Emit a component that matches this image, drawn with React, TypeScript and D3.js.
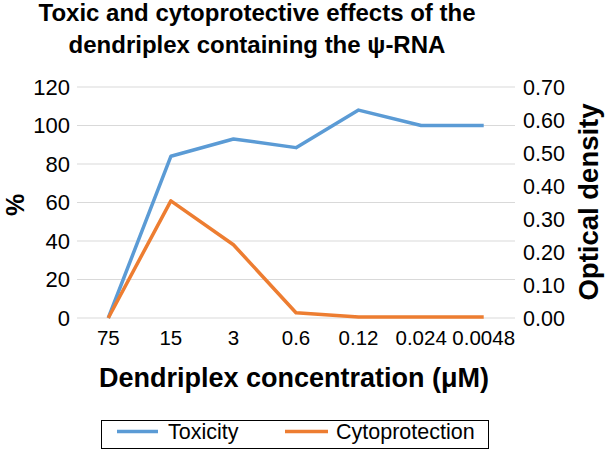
import React from "react";
import * as d3 from "d3";

const categories = ["75", "15", "3", "0.6", "0.12", "0.024", "0.0048"];
const toxicity = [0, 84, 93, 88.5, 108, 100, 100];
const cytoprotection = [0, 0.355, 0.222, 0.016, 0.003, 0.003, 0.003];
const leftTicks = [0, 20, 40, 60, 80, 100, 120];
const rightTicks = [0, 0.1, 0.2, 0.3, 0.4, 0.5, 0.6, 0.7];

const W = 606, H = 450;
const font = "'Liberation Sans', Arial, sans-serif";

export default function App() {
  const x0 = 77, x1 = 515, yTop = 87, yBot = 318;
  const x = d3.scaleBand().domain(categories).range([x0, x1]);
  const cx = (c: string) => (x(c) ?? 0) + x.bandwidth() / 2;
  const yL = d3.scaleLinear().domain([0, 120]).range([yBot, yTop]);
  const yR = d3.scaleLinear().domain([0, 0.7]).range([yBot, yTop]);
  const lineL = d3.line<number>().x((_, i) => cx(categories[i])).y((d) => yL(d));
  const lineR = d3.line<number>().x((_, i) => cx(categories[i])).y((d) => yR(d));
  const blue = "#5B9BD5", orange = "#ED7D31";
  return (
    <svg width={W} height={H} style={{ position: "absolute", left: 0, top: 0, background: "#fff" }} fontFamily={font}>
      <text x={257} y={21} textAnchor="middle" fontSize={24} fontWeight="bold">Toxic and cytoprotective effects of the</text>
      <text x={257} y={53} textAnchor="middle" fontSize={24} fontWeight="bold">dendriplex containing the ψ-RNA</text>
      {leftTicks.map((t) => (
        <g key={t}>
          <line x1={x0} x2={x1} y1={yL(t)} y2={yL(t)} stroke="#d9d9d9" strokeWidth={1} />
          <text x={70} y={yL(t) + 7.5} textAnchor="end" fontSize={22}>{t}</text>
        </g>
      ))}
      {rightTicks.map((t) => (
        <text key={t} x={523} y={yR(t) + 7.5} fontSize={21.5}>{t.toFixed(2)}</text>
      ))}
      {categories.map((c) => (
        <text key={c} x={cx(c)} y={345} textAnchor="middle" fontSize={20.5}>{c}</text>
      ))}
      <path d={lineL(toxicity) ?? ""} fill="none" stroke={blue} strokeWidth={3.5} strokeLinejoin="round" />
      <path d={lineR(cytoprotection) ?? ""} fill="none" stroke={orange} strokeWidth={3.5} strokeLinejoin="round" />
      <text transform={`translate(24,205) rotate(-90)`} textAnchor="middle" fontSize={25} fontWeight="bold">%</text>
      <text transform={`translate(598,202) rotate(-90)`} textAnchor="middle" fontSize={27.5} fontWeight="bold">Optical density</text>
      <text x={294} y={387} textAnchor="middle" fontSize={27} fontWeight="bold">Dendriplex concentration (μM)</text>
      <rect x={101.5} y={420.5} width={387} height={28} fill="none" stroke="#000" strokeWidth={1} />
      <line x1={117} x2={158} y1={431.5} y2={431.5} stroke={blue} strokeWidth={3.5} />
      <text x={168} y={439} fontSize={21.5}>Toxicity</text>
      <line x1={285} x2={328} y1={431.5} y2={431.5} stroke={orange} strokeWidth={3.5} />
      <text x={336} y={439} fontSize={21.5}>Cytoprotection</text>
    </svg>
  );
}
